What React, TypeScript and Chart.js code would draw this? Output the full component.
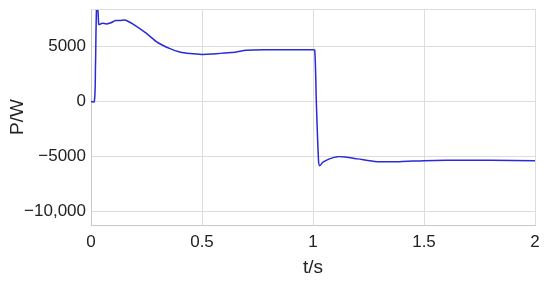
import React, { useEffect, useRef } from "react";
import { Chart, registerables } from "chart.js";

Chart.register(...registerables);

const timeValues: number[] = [
  0, 0.015, 0.02, 0.025, 0.03, 0.035, 0.04, 0.05, 0.07, 0.09, 0.11, 0.13, 0.15, 0.16,
  0.2, 0.25, 0.3, 0.356, 0.4, 0.446, 0.5, 0.55, 0.6, 0.65, 0.7, 0.8, 0.9, 1.0, 1.008,
  1.015, 1.025, 1.03, 1.045, 1.077, 1.11, 1.15, 1.2, 1.29, 1.39, 1.5, 1.6, 1.8, 2.0,
];
const powerValues: number[] = [
  0, 0, 3000, 8600, 8600, 7000, 7000, 7100, 7050, 7150, 7350, 7350, 7400, 7360,
  6900, 6180, 5360, 4800, 4500, 4360, 4280, 4320, 4400, 4480, 4650, 4700, 4700, 4700, 4650,
  0, -5400, -5820, -5500, -5180, -5000, -5050, -5200, -5450, -5450, -5360, -5330, -5330, -5360,
];
const xTicks: number[] = [0, 0.5, 1, 1.5, 2];
const yTicks: number[] = [-10000, -5000, 0, 5000];

function fmtY(v: number): string {
  const a = Math.abs(v);
  const s = a >= 10000 ? a.toLocaleString("en-US") : String(a);
  return v < 0 ? "\u2212" + s : s;
}

export default function App() {
  const ref = useRef<HTMLCanvasElement | null>(null);
  useEffect(() => {
    document.body.style.margin = "0";
    const canvas = ref.current;
    if (!canvas) return;
    const font = { family: "'Liberation Sans', Arial, sans-serif", size: 17 };
    const titleFont = { family: "'Liberation Sans', Arial, sans-serif", size: 19 };
    const chart = new Chart(canvas, {
      type: "scatter",
      data: {
        datasets: [
          {
            data: timeValues.map((t, i) => ({ x: t, y: powerValues[i] })),
            showLine: true,
            borderColor: "#2a2ad8",
            borderWidth: 1.5,
            pointRadius: 0,
            tension: 0.3,
            fill: false,
          },
        ],
      },
      options: {
        animation: false,
        responsive: false,
        layout: { padding: { top: 9, right: 15, left: 0, bottom: 0 } },
        plugins: { legend: { display: false }, tooltip: { enabled: false } },
        scales: {
          x: {
            type: "linear",
            min: 0,
            max: 2,
            afterBuildTicks: (s: any) => {
              s.ticks = xTicks.map((v) => ({ value: v }));
            },
            afterFit: (s: any) => {
              s.height = 59;
              s.paddingLeft = 0;
              s.paddingRight = 0;
            },
            ticks: {
              font,
              color: "#222",
              padding: 7,
              maxRotation: 0,
              callback: (v: any) => String(v),
            },
            grid: { color: "#dddddd", drawTicks: false },
            border: { color: "#c8c8c8" },
            title: {
              display: true,
              text: "t/s",
              font: titleFont,
              color: "#222",
              padding: { top: 2, bottom: 5 },
            },
          },
          y: {
            type: "linear",
            min: -11200,
            max: 8400,
            afterBuildTicks: (s: any) => {
              s.ticks = yTicks.map((v) => ({ value: v }));
            },
            afterFit: (s: any) => {
              s.width = 91;
              s.paddingTop = 0;
              s.paddingBottom = 0;
            },
            ticks: {
              font,
              color: "#222",
              padding: 5,
              callback: (v: any) => fmtY(Number(v)),
            },
            grid: { color: "#dddddd", drawTicks: false },
            border: { color: "#c8c8c8" },
            title: {
              display: true,
              text: "P/W",
              font: titleFont,
              color: "#222",
              padding: { top: 6, bottom: 0 },
            },
          },
        },
      },
      plugins: [
        {
          id: "frame",
          afterDraw: (c: any) => {
            const { ctx, chartArea } = c;
            ctx.save();
            ctx.strokeStyle = "#dddddd";
            ctx.lineWidth = 1;
            ctx.beginPath();
            ctx.moveTo(chartArea.left, chartArea.top + 0.5);
            ctx.lineTo(chartArea.right + 0.5, chartArea.top + 0.5);
            ctx.lineTo(chartArea.right + 0.5, chartArea.bottom);
            ctx.stroke();
            ctx.restore();
          },
        },
      ],
    } as any);
    return () => chart.destroy();
  }, []);
  return <canvas ref={ref} width={550} height={284} style={{ display: "block" }} />;
}
